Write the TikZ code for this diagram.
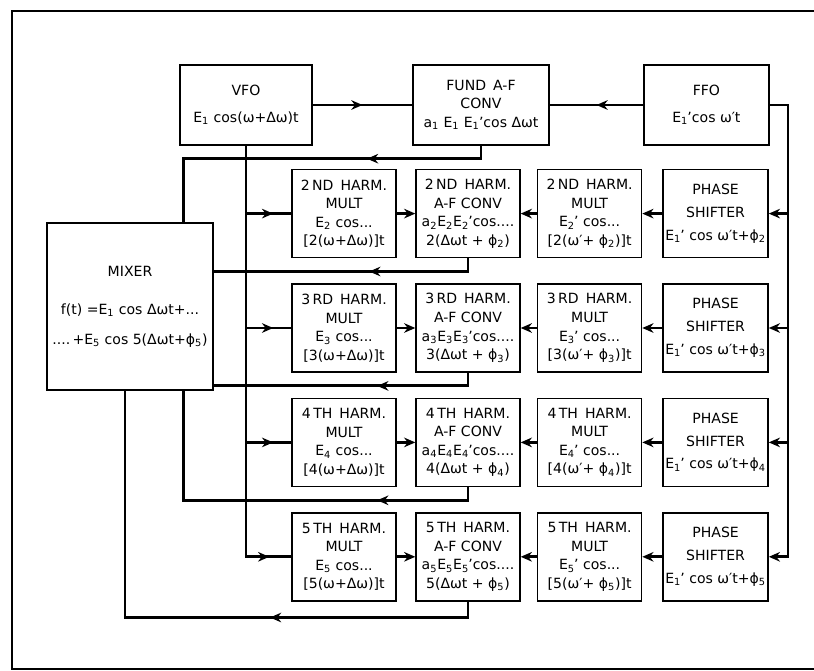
\documentclass[tikz,border=0pt]{standalone}
\usepackage{fontspec}
\setmainfont{DejaVu Sans}
\usepackage{tikz}
\usetikzlibrary{arrows.meta,positioning,calc,decorations.markings}
\newcommand{\Es}[1]{E\textsubscript{#1}}
\newcommand{\Ep}[1]{E\textsubscript{#1}\kern-0.5pt\textquoteright}
\newcommand{\phs}[1]{ϕ\textsubscript{#1}}
\tikzset{
  blk/.style={draw,line width=1pt,minimum width=2.6cm,minimum height=2.2cm,
              align=center,inner sep=1pt,font=\fontsize{10}{13.2}\selectfont},
  wire/.style={line width=2.1pt},
  tip/.style={wire,-{Stealth[length=2.8mm,width=2.4mm]}},
  midarrow/.style={postaction={decorate},decoration={markings,
      mark=at position #1 with {\arrow{Stealth[length=2.8mm,width=2.4mm]}}}},
}

\begin{document}
\begin{tikzpicture}
  \useasboundingbox (0,0) rectangle (20.35,-16.775);
  % open frame, cut at the right edge
  \draw[line width=1.5pt] (20.35,-0.275) -- (0.3,-0.275) -- (0.3,-16.725) -- (20.35,-16.725);

  % top row
  \node[blk,minimum width=3.3cm,minimum height=2cm] (VFO) at (6.15,-2.625)
    {VFO\\[6pt]\Es{1} cos(ω+Δω)t};
  \node[blk,minimum width=3.4cm,minimum height=2cm] (FUND) at (12.025,-2.625)
    {FUND\enspace A-F\\CONV\\a\textsubscript{1} \Es{1} \Ep{1}cos Δωt};
  \node[blk,minimum width=3.125cm,minimum height=2cm] (FFO) at (17.66,-2.625)
    {FFO\\[6pt]\Ep{1}cos ω′t};

  % mixer
  \node[blk,minimum width=4.15cm,minimum height=4.175cm] (MIXER) at (3.25,-7.66)
    {MIXER\\[14pt]f(t) =\Es{1} cos Δωt+...\\[8pt]....\,+\Es{5} cos 5(Δωt+\phs{5})};

  % harmonic rows
  \foreach \i/\ord/\yy in {2/ND/-5.34,3/RD/-8.2,4/TH/-11.06,5/TH/-13.92}{
    \node[blk] (m\i) at (8.6,\yy)
      {\i\,\ord\enspace HARM.\\MULT\\\Es{\i} cos...\\{[}\i(ω+Δω){]}t};
    \node[blk] (a\i) at (11.7,\yy)
      {\i\,\ord\enspace HARM.\\A-F CONV\\a\textsubscript{\i}\Es{\i}\Ep{\i}cos....\\\i(Δωt + \phs{\i})};
    \node[blk] (n\i) at (14.74,\yy)
      {\i\,\ord\enspace HARM.\\MULT\\\Ep{\i} cos...\\{[}\i(ω′+ \phs{\i}){]}t};
    \node[blk,minimum width=2.625cm] (p\i) at (17.89,\yy)
      {PHASE\\[3pt]SHIFTER\\[3pt]\Ep{1} cos ω′t+\phs{\i}};
    \draw[tip] (m\i.east) -- (a\i.west);
    \draw[tip] (n\i.west) -- (a\i.east);
    \draw[tip] (p\i.west) -- (n\i.east);
  }

  % fundamental path
  \draw[wire,midarrow=0.5] (VFO.east) -- (FUND.west);
  \draw[wire,midarrow=0.5] (FFO.west) -- (FUND.east);
  \coordinate (mxtop) at ($(MIXER.north east)+(-0.75,0)$);
  \draw[wire,midarrow=3.175cm] (FUND.south) -- ++(0,-0.325) -| (mxtop);

  % VFO bus to the harmonic multipliers
  \draw[wire,midarrow=-0.55cm] (VFO.south) |- (m5.west);
  \foreach \i in {2,3,4}
    \draw[wire,midarrow=0.6] (VFO.south |- m\i.west) -- (m\i.west);

  % FFO bus to the phase shifters
  \coordinate (rtop) at (19.7,-2.625);
  \draw[tip] (FFO.east) -- (rtop) |- (p5.east);
  \foreach \i in {2,3,4}
    \draw[tip] (rtop |- p\i.east) -- (p\i.east);

  % returns to the mixer
  \coordinate (mxbot) at ($(MIXER.south east)+(-0.75,0)$);
  \coordinate (mxbot2) at ($(MIXER.south)+(-0.125,0)$);
  \draw[wire,midarrow=2.8cm] (a2.south) -- ++(0,-0.33) coordinate (r2) -- (r2 -| MIXER.east);
  \draw[wire,midarrow=2.6cm] (a3.south) -- ++(0,-0.33) coordinate (r3) -- (r3 -| MIXER.east);
  \draw[wire,midarrow=2.6cm] (a4.south) -- ++(0,-0.33) coordinate (r4) -- (r4 -| mxbot) -- (mxbot);
  \draw[wire,midarrow=5.35cm] (a5.south) -- ++(0,-0.4) coordinate (r5) -- (r5 -| mxbot2) -- (mxbot2);
\end{tikzpicture}
\end{document}
